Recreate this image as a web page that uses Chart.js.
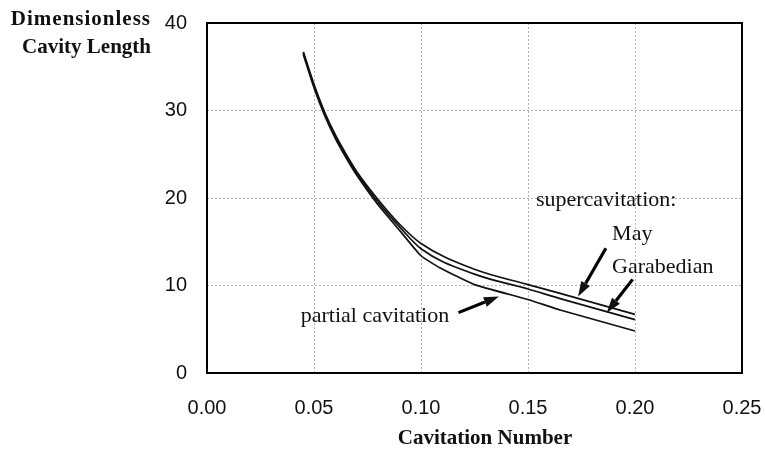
<!DOCTYPE html>
<html>
<head>
<meta charset="utf-8">
<script src="https://cdn.jsdelivr.net/npm/chart.js@4"></script>
<style>
  html, body { margin: 0; padding: 0; background: #fff; }
  #wrap { width: 765px; height: 451px; }
</style>
</head>
<body>
<div id="wrap"><canvas id="chart" width="765" height="451"></canvas></div>
<script>
// cavitation number (x) and dimensionless cavity length (y) per curve
const partialX = [0.045, 0.05, 0.055, 0.06, 0.065, 0.07, 0.08, 0.09, 0.10, 0.109, 0.125, 0.15, 0.165, 0.20];
const partialY = [36.4, 32.6, 29.4, 26.8, 24.6, 22.6, 19.2, 16.3, 13.4, 12.0, 10.1, 8.4, 7.2, 4.8];

const curveX = [0.045, 0.05, 0.055, 0.06, 0.065, 0.07, 0.08, 0.09, 0.10, 0.125, 0.15, 0.165, 0.20];
const mayY = [36.7, 33.0, 29.8, 27.2, 25.0, 23.0, 19.8, 17.0, 14.8, 11.85, 10.1, 9.1, 6.7];
const garabedianY = [36.6, 32.8, 29.6, 27.0, 24.8, 22.8, 19.5, 16.7, 14.2, 11.3, 9.6, 8.5, 6.1];

const xTicks = [0, 0.05, 0.10, 0.15, 0.20, 0.25];
const yTicks = [0, 10, 20, 30, 40];

// callouts, in data units
const labels = [
  { text: "supercavitation:", x: 0.1537, y: 19.7 },
  { text: "May", x: 0.1893, y: 15.9 },
  { text: "Garabedian", x: 0.1893, y: 12.1 },
  { text: "partial cavitation", x: 0.0438, y: 6.5 },
];
const arrows = [
  { from: [0.1175, 6.9], to: [0.1364, 8.75] },   // partial cavitation
  { from: [0.1864, 14.25], to: [0.1734, 8.75] }, // May
  { from: [0.1989, 10.7], to: [0.1868, 6.9] },   // Garabedian
];

const pts = (xs, ys) => xs.map((x, i) => ({ x, y: ys[i] }));
const SERIF = '"Liberation Serif", "Times New Roman", serif';
const SANS = '"Liberation Sans", Arial, sans-serif';

const line = (label, data, smooth) => ({
  label, data, showLine: true, borderColor: "#111", borderWidth: 1.7,
  pointRadius: 0, fill: false,
  cubicInterpolationMode: smooth ? "monotone" : "default", tension: smooth ? 0.4 : 0.15,
});

// frame, titles, callout text and arrows
const decor = {
  id: "decor",
  afterDraw(chart) {
    const { ctx, chartArea: a, scales: { x, y } } = chart;
    ctx.save();
    ctx.strokeStyle = "#000";
    ctx.lineWidth = 2;
    ctx.strokeRect(a.left, a.top, a.right - a.left, a.bottom - a.top);

    ctx.fillStyle = "#111";
    ctx.font = "bold 21px " + SERIF;
    ctx.textAlign = "right";
    ctx.textBaseline = "middle";
    ctx.letterSpacing = "1px";
    ctx.fillText("Dimensionless", 151, 20);
    ctx.letterSpacing = "0px";
    ctx.fillText("Cavity Length", 151, 48);
    ctx.textAlign = "center";
    ctx.fillText("Cavitation Number", 485, 439);

    ctx.font = "22px " + SERIF;
    ctx.textAlign = "left";
    labels.forEach((l) => ctx.fillText(l.text, x.getPixelForValue(l.x), y.getPixelForValue(l.y)));

    arrows.forEach((ar) => {
      const x0 = x.getPixelForValue(ar.from[0]), y0 = y.getPixelForValue(ar.from[1]);
      const x1 = x.getPixelForValue(ar.to[0]), y1 = y.getPixelForValue(ar.to[1]);
      const ang = Math.atan2(y1 - y0, x1 - x0);
      const head = 15, half = 5;
      const bx = x1 - head * Math.cos(ang), by = y1 - head * Math.sin(ang);
      ctx.lineWidth = 3.2;
      ctx.beginPath();
      ctx.moveTo(x0, y0);
      ctx.lineTo(bx, by);
      ctx.stroke();
      ctx.beginPath();
      ctx.moveTo(x1, y1);
      ctx.lineTo(bx + half * Math.sin(ang), by - half * Math.cos(ang));
      ctx.lineTo(bx - half * Math.sin(ang), by + half * Math.cos(ang));
      ctx.closePath();
      ctx.fill();
    });
    ctx.restore();
  },
};

const grid = { color: "#b0b0b0", lineWidth: 1, drawTicks: false };
const border = { display: false, dash: [2, 2] };

new Chart(document.getElementById("chart"), {
  type: "scatter",
  data: {
    datasets: [
      line("May", pts(curveX, mayY), true),
      line("Garabedian", pts(curveX, garabedianY), true),
      line("partial cavitation", pts(partialX, partialY), false),
    ],
  },
  options: {
    responsive: false,
    animation: false,
    layout: { padding: { top: 23, right: 23, left: 0, bottom: 0 } },
    plugins: { legend: { display: false }, tooltip: { enabled: false } },
    scales: {
      x: {
        type: "linear", min: 0, max: 0.25,
        afterBuildTicks: (s) => { s.ticks = xTicks.map((v) => ({ value: v })); },
        afterFit: (s) => { s.height = 78; s.paddingLeft = 0; s.paddingRight = 0; },
        grid, border,
        ticks: { color: "#111", font: { family: SANS, size: 20 }, padding: 23, maxRotation: 0,
                 callback: (v) => v.toFixed(2) },
      },
      y: {
        type: "linear", min: 0, max: 40,
        afterBuildTicks: (s) => { s.ticks = yTicks.map((v) => ({ value: v })); },
        afterFit: (s) => { s.width = 207; s.paddingTop = 0; s.paddingBottom = 0; },
        grid, border,
        ticks: { color: "#111", font: { family: SANS, size: 20 }, padding: 20 },
      },
    },
  },
  plugins: [decor],
});
</script>
</body>
</html>
